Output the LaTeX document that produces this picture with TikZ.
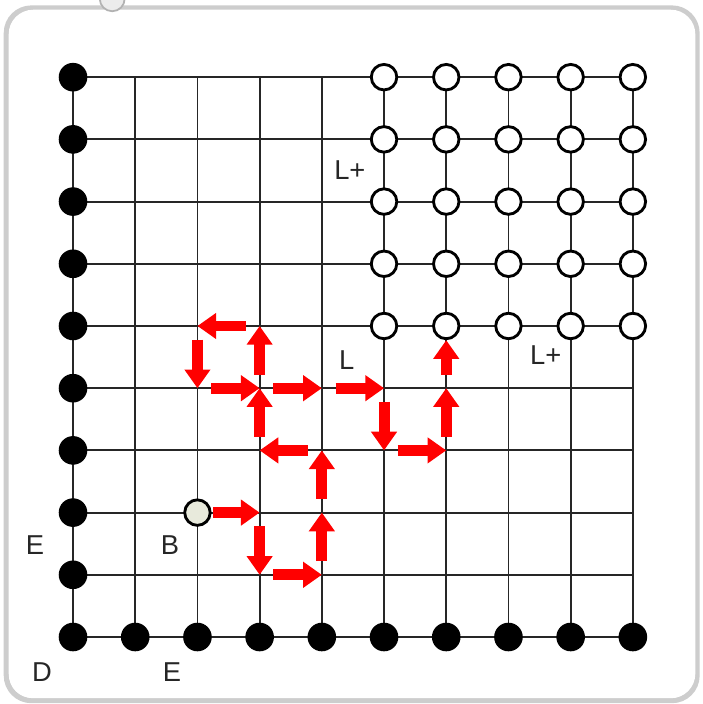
\documentclass[tikz,border=0pt]{standalone}
\usepackage{fontspec}
\setmainfont{Liberation Sans}
\usepackage{xcolor}
\usetikzlibrary{arrows.meta}

\definecolor{startfill}{RGB}{232,234,220}
\definecolor{framegray}{RGB}{205,205,205}

\begin{document}
\begin{tikzpicture}[
  gridline/.style={line width=0.85pt, black!85},
  blackdot/.style={circle, fill=black, minimum size=4.6mm, inner sep=0pt},
  whitedot/.style={circle, draw=black, line width=1.3pt, fill=white, minimum size=4.1mm, inner sep=0pt},
  startdot/.style={whitedot, fill=startfill},
  movearrow/.style={-{Triangle[length=3mm, width=4mm]}, line width=5pt, red, shorten <=2.2mm},
  gridlabel/.style={font=\fontsize{12.5}{14}\selectfont, text=black!85}
]
\useasboundingbox (-1.174,-1.077) rectangle (10.113,10.241);

% Frame and pin
\draw[framegray, line width=2.5pt, rounded corners=4mm] (-1.07,-1.02) rectangle (10.03,10.11);
\draw[white, line width=0.8pt, rounded corners=3.8mm] (-1.02,-0.97) rectangle (9.99,10.07);
\draw[gray!60, fill=gray!15, line width=0.8pt] (0.63,10.26) circle (0.2);

% Grid lines
\foreach \k in {0,...,9} {
  \draw[gridline] (0,\k) -- (9,\k);
  \draw[gridline] (\k,0) -- (\k,9);
}

% Grid points
\foreach \i in {0,...,9}
  \foreach \j in {0,...,9}
    \coordinate (p_\i_\j) at (\i,\j);

% Border dots
\foreach \j in {1,...,9}
  \node[blackdot] (d_0_\j) at (p_0_\j) {};
\foreach \i in {1,...,9}
  \node[blackdot] (d_\i_0) at (p_\i_0) {};
\node[blackdot] (d_0_0) at (p_0_0) {};

% Target block
\foreach \i in {5,...,9}
  \foreach \j in {5,...,9}
    \node[whitedot] (w_\i_\j) at (p_\i_\j) {};

% Start point
\node[startdot] (start) at (p_2_2) {};

% Moves
\draw[movearrow, shorten <=0.3mm] (start) -- (p_3_2);
\foreach \a/\b in {p_3_2/p_3_1, p_3_1/p_4_1, p_4_1/p_4_2, p_4_2/p_4_3,
                   p_4_3/p_3_3, p_3_3/p_3_4, p_3_4/p_3_5, p_3_5/p_2_5,
                   p_2_5/p_2_4, p_2_4/p_3_4, p_3_4/p_4_4, p_4_4/p_5_4,
                   p_5_4/p_5_3, p_5_3/p_6_3, p_6_3/p_6_4, p_6_4/w_6_5}
  \draw[movearrow] (\a) -- (\b);

% Labels
\node[gridlabel] (lplus_top) at (4.45,7.5) {L+};
\node[gridlabel] (lplus_right) at (7.6,4.53) {L+};
\node[gridlabel] (l_move) at (4.4,4.45) {L};
\node[gridlabel] (e_left) at (-0.61,1.48) {E};
\node[gridlabel] (b_start) at (1.56,1.48) {B};
\node[gridlabel] (d_corner) at (-0.5,-0.56) {D};
\node[gridlabel] (e_bottom) at (1.59,-0.56) {E};

\end{tikzpicture}
\end{document}
